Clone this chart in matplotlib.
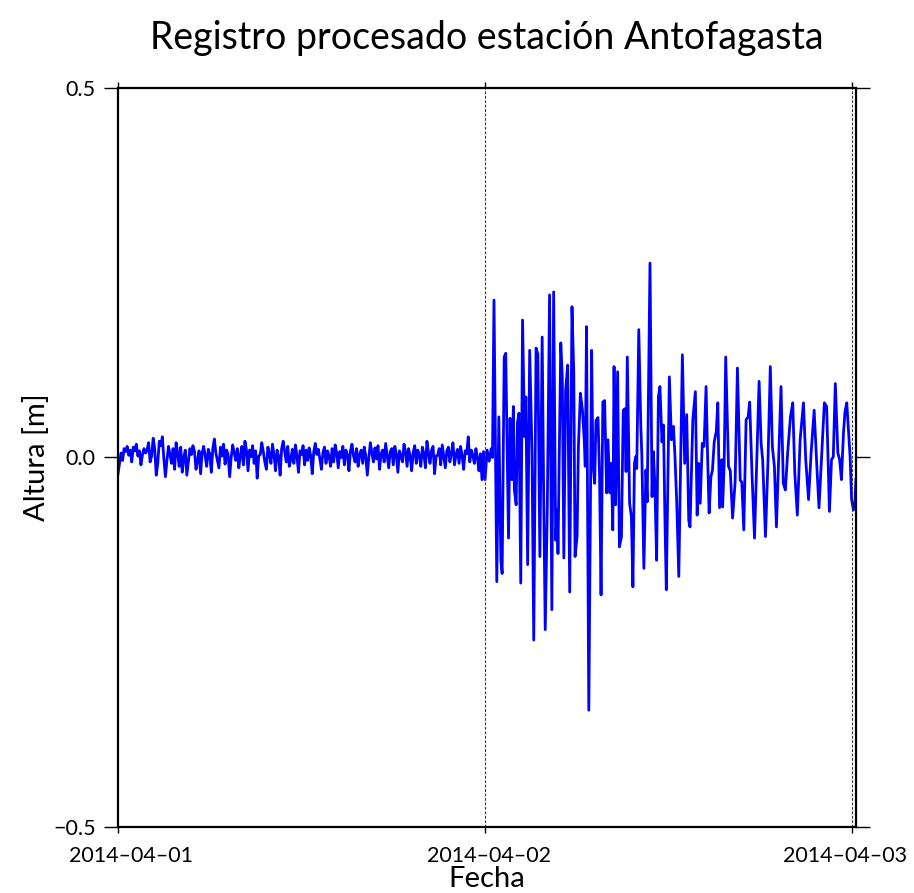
import numpy as np
import matplotlib
matplotlib.use("Agg")
import matplotlib.pyplot as plt
from matplotlib.transforms import ScaledTranslation

plt.rcParams['font.family'] = ['Lato', 'DejaVu Sans']

# Day 1: quiet record, 6-minute samples (mm)
quiet_start = np.datetime64('2014-04-01T00:00')
quiet_step_min = 6
quiet_mm = [
    -22, -8, 6, -4, 12, 8, 15, 3, 10, -6, 14, 9, 18, 2, 9, -10, 4, 12, 6, 10,
    20, -6, 2, 26, 12, -24, -8, 22, 16, 28, -2, -26, -4, 15, 4, -8, 12, -16, 20, 6,
    -12, 14, -20, 0, 10, -24, -6, 12, 4, 16, 8, -16, -4, 9, -22, 6, 15, 2, -12, 11,
    5, -20, 12, 25, 6, -4, -14, 14, 2, 18, -9, 10, 4, -26, 0, 17, 6, -4, 12, -14,
    3, 15, -10, 22, 10, -18, 10, 1, 16, -8, 9, -28, 2, 4, 20, 8, -6, -16, 14, 5,
    -8, 18, 4, -18, 10, 2, -24, 12, 22, 8, -6, 15, -12, -2, 11, -8, 17, 2, -20, 9,
    4, 16, -10, 10, -4, 13, 2, -22, 8, 19, 4, 11, -2, -16, 7, 14, -8, 9, 2, -12,
    12, -6, 17, 6, -14, 8, 0, 15, -10, 10, 4, -18, 9, 18, 2, -6, 12, -12, 4, 10,
    -8, 14, 2, -24, 0, 20, 6, -6, 13, -2, 16, -16, 5, 10, -6, 19, 3, -14, 8, 12,
    -10, 15, 4, -20, 9, 2, -6, 18, 8, -12, 12, 2, -18, 7, 16, -8, 10, 3, -12, 14,
    5, -14, 22, 6, -8, 10, 15, -22, 2, 3, 12, -10, 17, 2, -14, 9, 14, -6, 6, 20,
    -10, 4, 11, -8, 15, 2, -16, 9, 5, 28, -6, 10, 3, -8, 12, 0, -18, 5, -30, 8,
]

# Day 2: tsunami record, minutes after 2014-04-02 00:00 and height (m)
event_start = np.datetime64('2014-04-02T00:00')
event_min = [
    0, 8, 16, 24, 29, 35, 46, 54, 62, 67, 75, 81, 92, 98, 105, 111, 115, 122,
    127, 133, 140, 147, 155, 160, 167, 175, 184, 191, 200, 207, 215, 224, 230,
    236, 244, 253, 262, 269, 277, 283, 286, 297, 303, 309, 316, 324, 332, 341,
    348, 353, 361, 366, 374, 382, 389, 393, 398, 407, 418, 423, 430, 435, 443,
    449, 455, 462, 469, 477, 482, 490, 495, 501, 506, 512, 520, 527, 535, 542,
    549, 553, 558, 567, 574, 580, 586, 591, 595, 603, 611, 615, 623, 631, 636,
    647, 655, 660, 666, 673, 680, 686, 694, 700, 705, 711, 723, 731, 739, 745,
    752, 760, 774, 783, 791, 799, 804, 815, 825, 832, 838, 844, 852, 859, 867,
    873, 879, 886, 892, 899, 907, 913, 920, 928, 932, 938, 944, 955, 962, 971,
    981, 990, 1001, 1007, 1015, 1024, 1032, 1038, 1047, 1057, 1066, 1075, 1083,
    1089, 1100, 1110, 1119, 1127, 1135, 1143, 1152, 1161, 1170, 1178, 1187,
    1198, 1207, 1215, 1225, 1236, 1249, 1258, 1269, 1279, 1291, 1301, 1310,
    1321, 1331, 1340, 1351, 1359, 1366, 1374, 1384, 1391, 1398, 1406, 1412,
    1419, 1427, 1432, 1438, 1445, 1451, 1455,
]
event_m = [
    -0.030, 0.010, -0.005, 0.012, 0.000, 0.213, -0.168, 0.055, -0.139, -0.157,
    0.136, 0.141, -0.109, 0.053, -0.030, 0.069, -0.044, -0.064, 0.047, 0.060,
    -0.170, 0.186, 0.028, 0.082, -0.145, 0.145, 0.010, -0.247, 0.148, 0.140,
    -0.134, 0.163, -0.053, -0.233, -0.071, 0.220, -0.206, 0.224, -0.112, -0.071,
    -0.130, 0.155, 0.109, -0.136, 0.091, 0.125, -0.182, 0.204, 0.114, -0.134,
    -0.107, 0.013, 0.087, 0.064, 0.024, -0.012, 0.177, -0.342, 0.145, -0.008,
    -0.035, 0.050, 0.054, -0.021, -0.186, 0.075, 0.077, -0.048, 0.024, -0.048,
    -0.008, -0.098, 0.123, -0.064, 0.116, -0.121, -0.107, 0.064, 0.066, -0.019,
    0.136, -0.062, -0.080, -0.175, -0.008, 0.001, -0.015, 0.173, 0.042, 0.003,
    -0.150, -0.017, -0.060, 0.263, -0.053, 0.008, -0.035, -0.139, 0.082, 0.096,
    0.021, 0.044, -0.071, -0.179, 0.109, 0.024, 0.042, 0.001, -0.062, -0.161,
    0.139, -0.008, 0.058, -0.085, -0.094, 0.051, 0.089, -0.078, -0.008, -0.062,
    0.019, 0.015, 0.096, 0.001, -0.075, -0.026, -0.017, 0.021, 0.035, 0.074,
    -0.068, -0.003, -0.067, -0.008, 0.136, -0.012, -0.018, -0.082, -0.033,
    0.121, -0.031, -0.033, -0.098, 0.051, 0.055, 0.075, -0.021, -0.109, -0.003,
    0.103, 0.019, -0.003, -0.107, -0.003, 0.123, 0.015, -0.012, -0.094, 0.001,
    0.096, -0.035, -0.044, 0.006, 0.055, 0.074, -0.021, -0.078, 0.024, 0.074,
    -0.003, -0.057, 0.006, 0.064, -0.008, -0.068, 0.006, 0.074, 0.069, -0.073,
    -0.003, 0.001, 0.100, 0.006, -0.003, -0.030, 0.033, 0.062, 0.074, 0.028,
    0.001, -0.057, -0.071, -0.060, -0.030,
]

day_ticks = ['2014-04-01', '2014-04-02', '2014-04-03']
y_ticks = [-0.5, 0.0, 0.5]

t_quiet = quiet_start + np.arange(len(quiet_mm)) * np.timedelta64(quiet_step_min, 'm')
t_event = event_start + np.array(event_min).astype('timedelta64[m]')
t = np.concatenate([t_quiet, t_event]).astype('datetime64[s]').astype(object)
h = np.concatenate([np.array(quiet_mm) / 1000.0, np.array(event_m)])

fig = plt.figure(figsize=(9.14, 8.93), dpi=100)
ax = fig.add_axes([0.1291, 0.0739, 0.8074, 0.8276])

ax.plot(t, h, color='#0000ff', lw=2.0)

day_dates = [np.datetime64(d).astype('datetime64[s]').astype(object) for d in day_ticks]
for d in day_dates[1:]:
    ax.axvline(d, color='#333333', lw=0.8, linestyle=(0, (2.5, 1.5)))

ax.set_xlim(day_dates[0], t[-1])
ax.set_ylim(-0.5, 0.5)
ax.set_xticks(day_dates)
ax.set_xticklabels([d.replace('-', '\u2013') for d in day_ticks])
ax.set_yticks(y_ticks)
ax.set_yticklabels(['\u22120.5', '0.0', '0.5'])

ax.tick_params(axis='y', which='both', direction='out', length=10, width=1,
               left=True, right=True, labelsize=15.5, pad=6)
ax.tick_params(axis='x', which='both', direction='out', length=4, width=1,
               bottom=True, top=True, labelsize=15.5, pad=10)
for s in ax.spines.values():
    s.set_linewidth(1.6)

# nudge the outer date labels so they stay inside the figure
for lab, dx in zip(ax.get_xticklabels(), [13, 4, -7]):
    lab.set_transform(lab.get_transform() + ScaledTranslation(dx / 100, 0, fig.dpi_scale_trans))

ax.set_title('Registro procesado estación Antofagasta', fontsize=27, pad=28)
ax.set_xlabel('Fecha', fontsize=21, labelpad=0)
ax.set_ylabel('Altura [m]', fontsize=21, labelpad=2)

fig.savefig('out.png', dpi=100)
plt.close(fig)
